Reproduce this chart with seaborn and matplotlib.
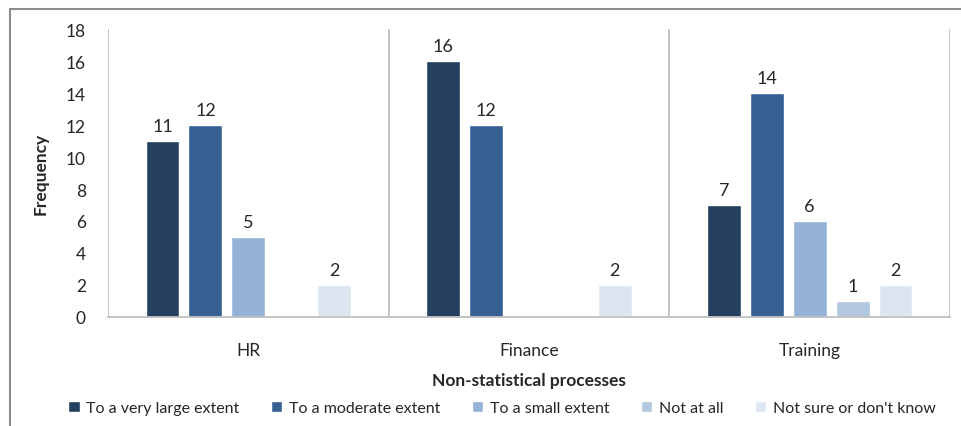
"""
Non-statistical processes - frequency by extent
"""
import pandas as pd
import numpy as np
import matplotlib.pyplot as plt
import seaborn as sns
from matplotlib.lines import Line2D

# Data
processes = ['HR', 'Finance', 'Training']
extents = ['To a very large extent', 'To a moderate extent', 'To a small extent',
           'Not at all', "Not sure or don't know"]
very_large = [11, 16, 7]
moderate = [12, 12, 14]
small = [5, 0, 6]
not_at_all = [0, 0, 1]
not_sure = [2, 2, 2]

colors = ['#243F60', '#366092', '#95B3D7', '#B3C7E1', '#DCE6F1']

sns.set_style("white")
plt.rcParams['font.family'] = ['Lato', 'DejaVu Sans']


def build_frame():
    """Long-form table for seaborn"""
    rows = []
    for series, name in zip([very_large, moderate, small, not_at_all, not_sure], extents):
        for proc, val in zip(processes, series):
            rows.append({'Process': proc, 'Extent': name, 'Frequency': val})
    return pd.DataFrame(rows)


def main():
    df = build_frame()

    fig = plt.figure(figsize=(9.62, 4.27), dpi=100)
    ax = fig.add_axes([0.1123, 0.2553, 0.8752, 0.6744])

    sns.barplot(data=df, x='Process', y='Frequency', hue='Extent',
                order=processes, hue_order=extents, palette=colors,
                saturation=1, width=0.765, gap=0.21, ax=ax, legend=True)

    # value labels, skip the empty bars
    for cont in ax.containers:
        labels = [f'{int(v)}' if v > 0 else '' for v in cont.datavalues]
        ax.bar_label(cont, labels=labels, padding=5, fontsize=13, color='#262626')

    ax.set_ylim(0, 18)
    ax.set_yticks(np.arange(0, 19, 2))
    ax.set_xlim(-0.5, 2.5)
    ax.tick_params(axis='y', length=0, pad=16, labelsize=12.5, labelcolor='#262626')
    ax.tick_params(axis='x', length=0, pad=18, labelsize=12.5, labelcolor='#262626')

    # category separators
    for x in [-0.5, 0.5, 1.5, 2.5]:
        ax.axvline(x, color='#BFBFBF', lw=1.3, zorder=0)

    for s in ['top', 'right', 'left']:
        ax.spines[s].set_visible(False)
    ax.spines['bottom'].set_color('#BFBFBF')
    ax.spines['bottom'].set_linewidth(1.3)

    ax.set_ylabel('Frequency', fontsize=12.5, fontweight='bold', labelpad=12)
    ax.set_xlabel('Non-statistical processes', fontsize=12.5, fontweight='bold', labelpad=10)

    ax.legend(loc='upper center', bbox_to_anchor=(0.468, -0.27), ncol=5,
              frameon=False, fontsize=11.5, handlelength=0.7, handleheight=0.7,
              handletextpad=0.4, columnspacing=2.0, borderaxespad=0)

    # outer frame like the original export (top and left edges)
    x0, y0 = 10 / 962, 1 - 10 / 427
    fig.add_artist(Line2D([x0, 1], [y0, y0], transform=fig.transFigure,
                          color='#8C8C8C', lw=1.5))
    fig.add_artist(Line2D([x0, x0], [0, y0], transform=fig.transFigure,
                          color='#8C8C8C', lw=1.5))

    fig.savefig('out.png', dpi=100)
    plt.close(fig)


if __name__ == "__main__":
    main()
